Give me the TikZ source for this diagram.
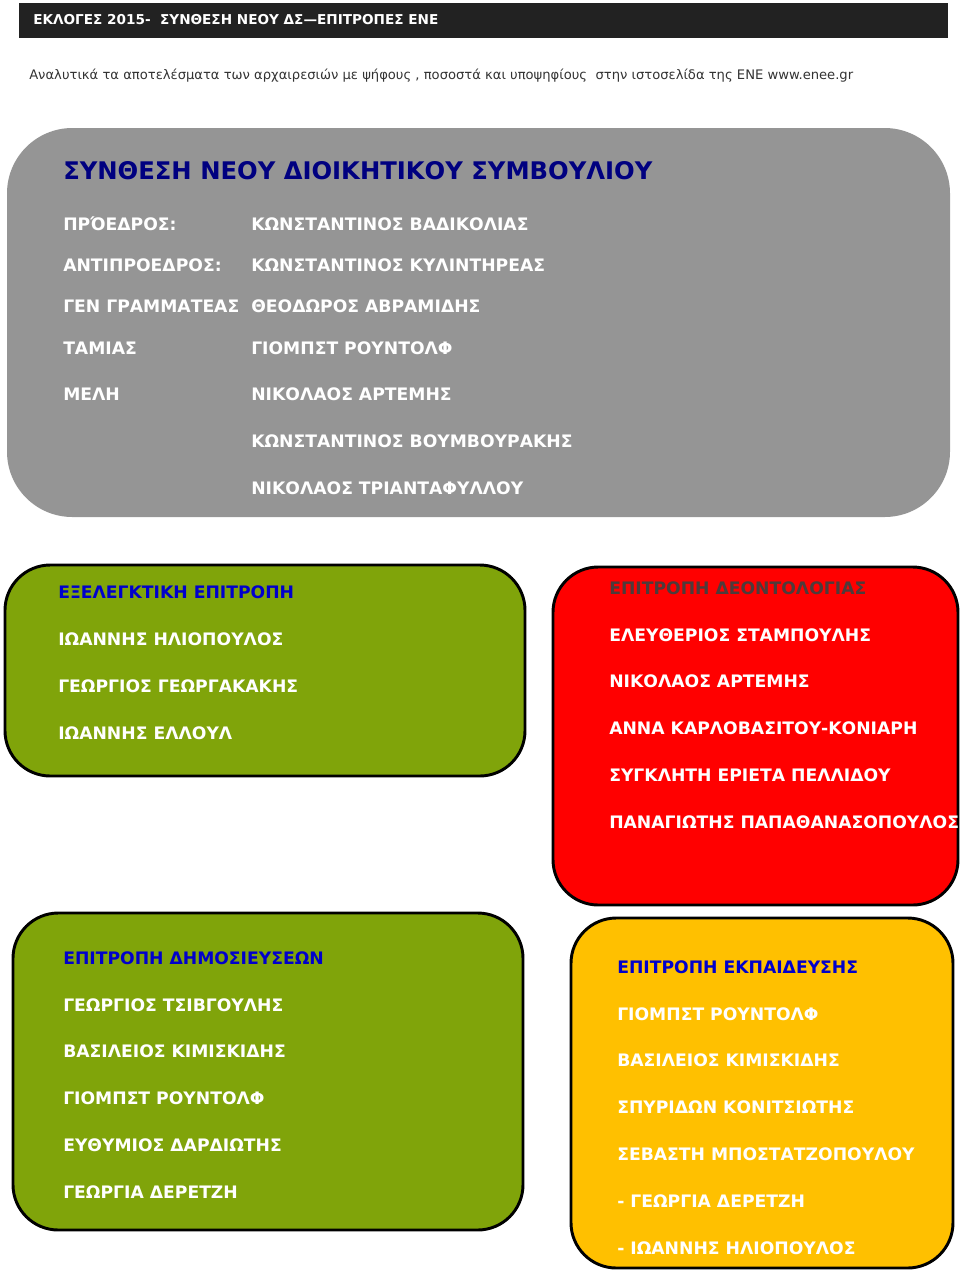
\documentclass[tikz,border=0pt]{standalone}
\usepackage{fontspec}
\setmainfont{DejaVu Sans}
\usepackage{xcolor}
\usepackage{tikz}
\usetikzlibrary{positioning}
\definecolor{bar}{HTML}{222222}
\definecolor{panel}{HTML}{959595}
\definecolor{olive}{HTML}{80A40A}
\definecolor{scarlet}{HTML}{FF0000}
\definecolor{amber}{HTML}{FFC000}
\definecolor{navyhead}{HTML}{000080}
\definecolor{bluehead}{HTML}{0000CC}
\definecolor{dusk}{HTML}{4D3B3B}
\definecolor{ink}{HTML}{333333}

\begin{document}
\begin{tikzpicture}[
  x=0.75pt,y=-0.75pt,
  every node/.style={inner sep=0pt,anchor=west},
  row/.style={font=\bfseries\fontsize{12.9}{15}\selectfont,text=white},
  head/.style={font=\bfseries\fontsize{12.9}{15}\selectfont,text=bluehead},
  box/.style={draw=black,line width=2.2pt,rounded corners=34pt}
]
\useasboundingbox (0,0) rectangle (960,1272);

% header
\fill[bar] (19,3) rectangle (948,38);
\node[font=\bfseries\fontsize{10.2}{12}\selectfont,text=white] (bartitle) at (33,20)
  {ΕΚΛΟΓΕΣ 2015-~~ΣΥΝΘΕΣΗ ΝΕΟΥ ΔΣ—ΕΠΙΤΡΟΠΕΣ ΕΝΕ};
\node[font=\fontsize{9.85}{12}\selectfont,text=ink] (intro) at (29,76)
  {Αναλυτικά τα αποτελέσματα των αρχαιρεσιών με ψήφους , ποσοστά και υποψηφίους~~στην ιστοσελίδα της ΕΝΕ www.enee.gr};

% board
\fill[panel,rounded corners=49pt] (7,128) rectangle (950,517);
\node[font=\bfseries\fontsize{18.2}{22}\selectfont,text=navyhead] (board) at (63,171)
  {ΣΥΝΘΕΣΗ ΝΕΟΥ ΔΙΟΙΚΗΤΙΚΟΥ ΣΥΜΒΟΥΛΙΟΥ};
\node[row] (chair) at (63,224) {ΠΡΌΕΔΡΟΣ:};
\node[row] (vice) at (63,265) {ΑΝΤΙΠΡΟΕΔΡΟΣ:};
\node[row] (secr) at (63,306) {ΓΕΝ ΓΡΑΜΜΑΤΕΑΣ};
\node[row] (treas) at (63,348) {ΤΑΜΙΑΣ};
\node[row] (memb) at (63,394) {ΜΕΛΗ};
\foreach \who/\yy [count=\i] in {
  {ΚΩΝΣΤΑΝΤΙΝΟΣ ΒΑΔΙΚΟΛΙΑΣ}/224,
  {ΚΩΝΣΤΑΝΤΙΝΟΣ ΚΥΛΙΝΤΗΡΕΑΣ}/265,
  {ΘΕΟΔΩΡΟΣ ΑΒΡΑΜΙΔΗΣ}/306,
  {ΓΙΟΜΠΣΤ ΡΟΥΝΤΟΛΦ}/348,
  {ΝΙΚΟΛΑΟΣ ΑΡΤΕΜΗΣ}/394,
  {ΚΩΝΣΤΑΝΤΙΝΟΣ ΒΟΥΜΒΟΥΡΑΚΗΣ}/441,
  {ΝΙΚΟΛΑΟΣ ΤΡΙΑΝΤΑΦΥΛΛΟΥ}/488}
  \node[row] (ds\i) at (251,\yy) {\who};

% audit committee
\draw[box,fill=olive] (5,565) rectangle (525,776);
\node[head] (audit) at (58,592) {ΕΞΕΛΕΓΚΤΙΚΗ ΕΠΙΤΡΟΠΗ};
\foreach \who [count=\i] in {
  ΙΩΑΝΝΗΣ ΗΛΙΟΠΟΥΛΟΣ,
  ΓΕΩΡΓΙΟΣ ΓΕΩΡΓΑΚΑΚΗΣ,
  ΙΩΑΝΝΗΣ ΕΛΛΟΥΛ}
  \node[row] (audit\i) at (58,592+47*\i) {\who};

% ethics committee
\draw[box,fill=scarlet] (553,567) rectangle (958,905);
\node[head,text=dusk] (ethics) at (609,588) {ΕΠΙΤΡΟΠΗ ΔΕΟΝΤΟΛΟΓΙΑΣ};
\foreach \who [count=\i] in {
  ΕΛΕΥΘΕΡΙΟΣ ΣΤΑΜΠΟΥΛΗΣ,
  ΝΙΚΟΛΑΟΣ ΑΡΤΕΜΗΣ,
  ΑΝΝΑ ΚΑΡΛΟΒΑΣΙΤΟΥ-ΚΟΝΙΑΡΗ,
  ΣΥΓΚΛΗΤΗ ΕΡΙΕΤΑ ΠΕΛΛΙΔΟΥ,
  ΠΑΝΑΓΙΩΤΗΣ ΠΑΠΑΘΑΝΑΣΟΠΟΥΛΟΣ}
  \node[row] (ethics\i) at (609,588+46.8*\i) {\who};

% press committee
\draw[box,fill=olive] (13,913) rectangle (523,1230);
\node[head] (press) at (63,958) {ΕΠΙΤΡΟΠΗ ΔΗΜΟΣΙΕΥΣΕΩΝ};
\foreach \who [count=\i] in {
  ΓΕΩΡΓΙΟΣ ΤΣΙΒΓΟΥΛΗΣ,
  ΒΑΣΙΛΕΙΟΣ ΚΙΜΙΣΚΙΔΗΣ,
  ΓΙΟΜΠΣΤ ΡΟΥΝΤΟΛΦ,
  ΕΥΘΥΜΙΟΣ ΔΑΡΔΙΩΤΗΣ,
  ΓΕΩΡΓΙΑ ΔΕΡΕΤΖΗ}
  \node[row] (press\i) at (63,958+46.8*\i) {\who};

% education committee
\draw[box,fill=amber] (571,918) rectangle (953,1268);
\node[head] (edu) at (617,967) {ΕΠΙΤΡΟΠΗ ΕΚΠΑΙΔΕΥΣΗΣ};
\foreach \who [count=\i] in {
  ΓΙΟΜΠΣΤ ΡΟΥΝΤΟΛΦ,
  ΒΑΣΙΛΕΙΟΣ ΚΙΜΙΣΚΙΔΗΣ,
  ΣΠΥΡΙΔΩΝ ΚΟΝΙΤΣΙΩΤΗΣ,
  ΣΕΒΑΣΤΗ ΜΠΟΣΤΑΤΖΟΠΟΥΛΟΥ,
  - ΓΕΩΡΓΙΑ ΔΕΡΕΤΖΗ,
  - ΙΩΑΝΝΗΣ ΗΛΙΟΠΟΥΛΟΣ}
  \node[row] (edu\i) at (617,967+46.8*\i) {\who};
\end{tikzpicture}
\end{document}
